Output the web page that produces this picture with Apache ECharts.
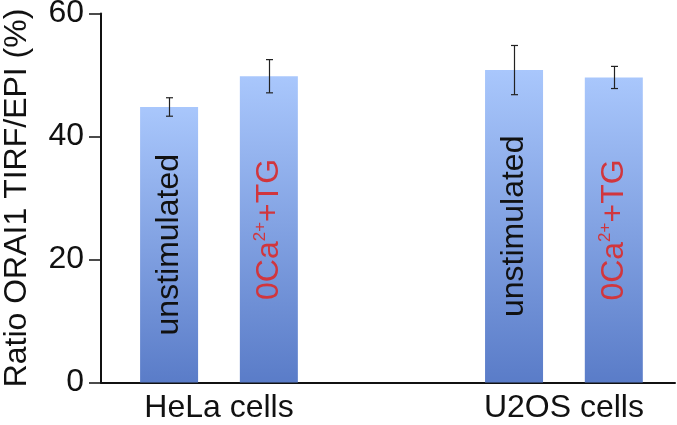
<!DOCTYPE html>
<html>
<head>
<meta charset="utf-8">
<script src="https://cdn.jsdelivr.net/npm/echarts@6/dist/echarts.min.js"></script>
<style>
  html, body { margin: 0; padding: 0; background: #fff; }
  #chart { width: 677px; height: 425px; }
</style>
</head>
<body>
<div id="chart"></div>
<script>
// cell lines (x positions 0 and 1 on the value axis)
var groups = ['HeLa cells', 'U2OS cells'];
var conditions = ['unstimulated', '0Ca2+ +TG'];

// mean ratio per condition, one value per group
var unstimulated = [44.8, 50.8];
var zeroCaTG = [49.8, 49.6];

// error bar half widths
var unstimulatedErr = [1.5, 4.0];
var zeroCaTGErr = [2.7, 1.8];

var yTicks = [0, 20, 40, 60];

var FONT = '"Liberation Sans", Arial, sans-serif';
var FS = 32;
var BAR_W = 58;
var BAR_GAP = 0.72; // fraction of bar width
var barShift = (BAR_W + BAR_W * BAR_GAP) / 2;

var barColor = {
    type: 'linear', x: 0, y: 0, x2: 0, y2: 1,
    colorStops: [
        { offset: 0, color: '#a9c7fc' },
        { offset: 1, color: '#5a7cc8' }
    ]
};

function toPairs(vals) {
    return vals.map(function (v, i) { return [i, v]; });
}

function errData(vals, errs) {
    return vals.map(function (v, i) { return [i, v - errs[i], v + errs[i]]; });
}

function errorSeries(vals, errs, side) {
    return {
        type: 'custom',
        silent: true,
        z: 5,
        data: errData(vals, errs),
        renderItem: function (params, api) {
            var lo = api.coord([api.value(0), api.value(1)]);
            var hi = api.coord([api.value(0), api.value(2)]);
            var x = Math.round(lo[0] + side * barShift) + 0.5;
            var cap = 3.5;
            var st = { stroke: '#222', lineWidth: 1.2 };
            return {
                type: 'group',
                children: [
                    { type: 'line', shape: { x1: x, y1: lo[1], x2: x, y2: hi[1] }, style: st },
                    { type: 'line', shape: { x1: x - cap, y1: lo[1], x2: x + cap, y2: lo[1] }, style: st },
                    { type: 'line', shape: { x1: x - cap, y1: hi[1], x2: x + cap, y2: hi[1] }, style: st }
                ]
            };
        }
    };
}

var chart = echarts.init(document.getElementById('chart'));

var option = {
    animation: false,
    textStyle: { fontFamily: FONT },
    grid: { left: 101, right: 2, top: 13.5, bottom: 42.5, outerBoundsMode: 'none', containLabel: false },
    xAxis: {
        type: 'value',
        min: -0.342,
        max: 1.322,
        axisLine: { show: true, onZero: false, lineStyle: { color: '#111', width: 2 } },
        axisTick: { show: false },
        splitLine: { show: false },
        axisLabel: {
            customValues: [0, 1],
            formatter: function (v) { return groups[Math.round(v)]; },
            color: '#111',
            fontSize: FS,
            fontFamily: FONT,
            margin: 10
        }
    },
    yAxis: {
        type: 'value',
        min: yTicks[0],
        max: yTicks[yTicks.length - 1],
        interval: 20,
        name: 'Ratio ORAI1 TIRF/EPI (%)',
        nameLocation: 'middle',
        nameGap: 68,
        nameTextStyle: { color: '#111', fontSize: FS, fontFamily: FONT },
        axisLine: { show: true, onZero: false, lineStyle: { color: '#111', width: 2 } },
        axisTick: { show: true, length: 12, lineStyle: { color: '#111', width: 1.5 } },
        splitLine: { show: false },
        axisLabel: { color: '#111', fontSize: FS, fontFamily: FONT, margin: 17 }
    },
    series: [
        {
            type: 'bar',
            name: conditions[0],
            data: toPairs(unstimulated),
            barWidth: BAR_W,
            barGap: (BAR_GAP * 100) + '%',
            itemStyle: { color: barColor },
            label: {
                show: true,
                position: 'inside',
                rotate: 90,
                formatter: conditions[0],
                color: '#111',
                fontSize: FS,
                fontFamily: FONT
            }
        },
        {
            type: 'bar',
            name: conditions[1],
            data: toPairs(zeroCaTG),
            barWidth: BAR_W,
            barGap: (BAR_GAP * 100) + '%',
            itemStyle: { color: barColor },
            label: {
                show: true,
                position: 'inside',
                rotate: 90,
                formatter: '{a|0Ca}{s|2+}{a|+TG}',
                rich: {
                    a: { color: '#d1363d', fontSize: FS, fontFamily: FONT, lineHeight: 34 },
                    s: { color: '#d1363d', fontSize: 17, fontFamily: FONT, verticalAlign: 'top', lineHeight: 17 }
                }
            }
        },
        errorSeries(unstimulated, unstimulatedErr, -1),
        errorSeries(zeroCaTG, zeroCaTGErr, 1)
    ]
};

chart.setOption(option);
</script>
</body>
</html>
